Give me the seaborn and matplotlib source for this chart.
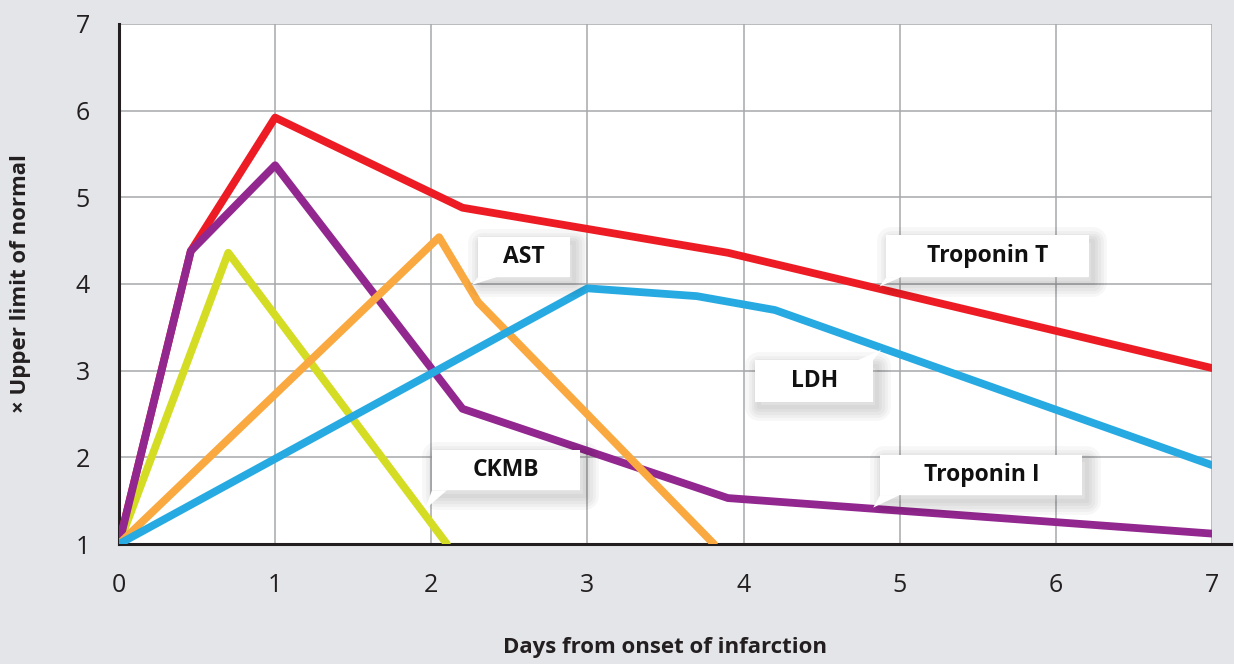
import numpy as np
import pandas as pd
import matplotlib
matplotlib.use("Agg")
import matplotlib.pyplot as plt
import matplotlib.patheffects as pe
from matplotlib.patches import Rectangle, Polygon
import seaborn as sns

# values (days, x upper limit of normal)
trop_t_days = [0, 0.46, 1.0, 2.2, 3.9, 7.0]
trop_t_vals = [1.0, 4.38, 5.92, 4.88, 4.36, 3.03]

trop_i_days = [0, 0.46, 1.0, 2.2, 3.9, 7.0]
trop_i_vals = [1.0, 4.38, 5.37, 2.56, 1.53, 1.12]

ckmb_days = [0, 0.7, 2.1]
ckmb_vals = [1.0, 4.36, 1.0]

ast_days = [0, 2.05, 2.3, 3.81]
ast_vals = [1.0, 4.54, 3.79, 1.0]

ldh_days = [0, 3.0, 3.7, 4.2, 7.0]
ldh_vals = [1.0, 3.95, 3.86, 3.7, 1.91]

# drawing order follows the reference (later = on top)
series_names = ["Troponin T", "CKMB", "Troponin I", "AST", "LDH"]
series_colors = ["#ed1c24", "#d4dd23", "#92278f", "#f9a940", "#27aae1"]

# callout boxes (data coords): x0, x1, y0, y1, tail base x-range, tail base y, tip
callout_text = ["AST", "Troponin T", "LDH", "CKMB", "Troponin I"]
box_x = [(2.30, 2.89), (4.915, 6.21), (4.075, 4.83), (2.005, 2.955), (4.875, 6.17)]
box_y = [(4.08, 4.54), (4.08, 4.565), (2.64, 3.12), (1.62, 2.085), (1.565, 2.03)]
tail_base = [(2.30, 2.42, 4.08), (4.915, 5.01, 4.08), (4.73, 4.83, 3.12),
             (2.005, 2.10, 1.62), (4.875, 5.0, 1.565)]
tail_tip = [(2.26, 3.99), (4.87, 3.97), (4.88, 3.24), (1.96, 1.40), (4.83, 1.42)]

frames = []
for name, d, v in [("Troponin T", trop_t_days, trop_t_vals), ("CKMB", ckmb_days, ckmb_vals),
                   ("Troponin I", trop_i_days, trop_i_vals), ("AST", ast_days, ast_vals),
                   ("LDH", ldh_days, ldh_vals)]:
    frames.append(pd.DataFrame({"day": d, "value": v, "marker": name}))
df = pd.concat(frames, ignore_index=True)

sns.set_style("white")
plt.rcParams["font.family"] = ["Open Sans", "DejaVu Sans"]

bg = "#e4e5e9"
fig = plt.figure(figsize=(12.34, 6.64), dpi=100, facecolor=bg)
ax = fig.add_axes([0.0964, 0.1807, 0.8858, 0.7832])
ax.set_facecolor("white")

sns.lineplot(data=df, x="day", y="value", hue="marker", hue_order=series_names,
             palette=series_colors, estimator=None, sort=False, linewidth=5.6,
             legend=False, ax=ax, zorder=3)

ax.set_xlim(0, 7)
ax.set_ylim(1, 7)
ax.set_xticks(range(0, 8))
ax.set_yticks(range(1, 8))
ax.grid(True, color="#a7a8ab", linewidth=1.1)
ax.set_axisbelow(True)

for s in ["top", "right"]:
    ax.spines[s].set_visible(False)
for s in ["left", "bottom"]:
    ax.spines[s].set_color("#231f20")
    ax.spines[s].set_linewidth(2.2)
ax.spines["bottom"].set_bounds(0, 7.12)

ax.tick_params(axis="both", direction="out", length=18, width=1.6, color="#231f20",
               labelsize=18, labelcolor="#231f20", pad=3)

ax.set_xlabel("Days from onset of infarction", fontsize=16, fontweight="bold",
              color="#231f20", labelpad=28)
ax.set_ylabel("\u00d7 Upper limit of normal", fontsize=16, fontweight="bold",
              color="#231f20", labelpad=32)

# soft drop shadow for the callouts
shadow = [pe.Stroke(linewidth=lw, foreground="black", alpha=0.03, offset=(3, -4),
                    joinstyle="round")
          for lw in (20, 15, 11, 7, 3)] + [pe.Normal()]

for txt, bx, by, tb, tip in zip(callout_text, box_x, box_y, tail_base, tail_tip):
    rect = Rectangle((bx[0], by[0]), bx[1] - bx[0], by[1] - by[0], fc="white", ec="none",
                     zorder=5, clip_on=False)
    rect.set_path_effects(shadow)
    ax.add_patch(rect)
    tail = Polygon([(tb[0], tb[2]), (tb[1], tb[2]), tip], closed=True, fc="white",
                   ec="none", zorder=5.5)
    ax.add_patch(tail)
    ax.text((bx[0] + bx[1]) / 2, (by[0] + by[1]) / 2, txt, ha="center", va="center",
            fontsize=16.5, fontweight="bold", color="#111111", zorder=6)

fig.savefig("out.png", dpi=100, facecolor=bg)
